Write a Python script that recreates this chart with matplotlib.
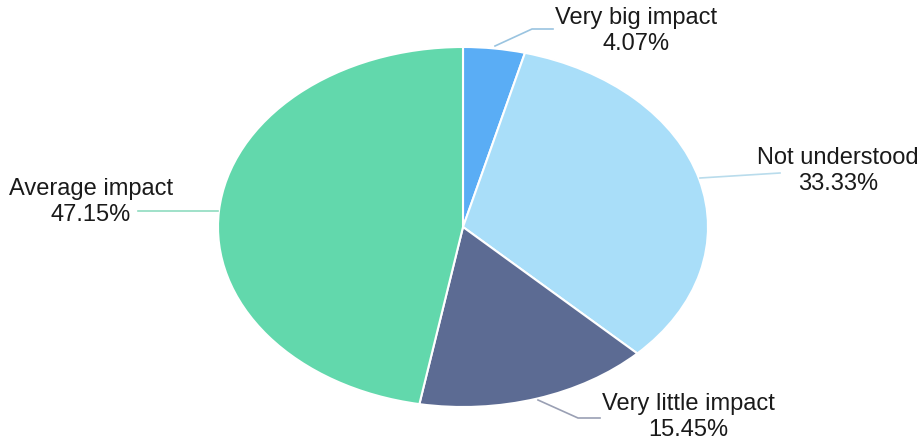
import matplotlib.pyplot as plt
import numpy as np

plt.rcParams['font.family'] = ['Liberation Sans', 'DejaVu Sans']

# slices, clockwise from 12 o'clock
labels = ['Very big impact', 'Not understood', 'Very little impact', 'Average impact']
shares = [4.07, 33.33, 15.45, 47.15]
colors = ['#5aadf5', '#a9def9', '#5c6b93', '#62d8ac']
line_colors = ['#9ac4e0', '#b9dcec', '#9aa0b4', '#8fdcc0']

# pie centre and radii in pixels (drawn as an ellipse)
cx, cy, rx, ry = 463, 227, 245, 180
W, H = 921, 441


def to_data(px, py):
    return (px - cx) / rx, (cy - py) / ry


fig = plt.figure(figsize=(W / 100, H / 100), dpi=100)
ax = fig.add_axes([0, 0, 1, 1])
ax.pie(shares, colors=colors, startangle=90, counterclock=False,
       wedgeprops=dict(edgecolor='white', linewidth=1.5))
ax.set_aspect('auto')
ax.set_xlim(-cx / rx, (W - cx) / rx)
ax.set_ylim(-(H - cy) / ry, cy / ry)
ax.axis('off')

# label text positions and leader lines (pixels), same order as labels
text_pos = [(636, 31), (838, 171), (688, 417), (91, 202)]
leaders = [
    [(495, 46), (532, 29), (553, 29)],
    [(700, 178), (780, 173)],
    [(538, 400), (578, 418), (600, 418)],
    [(218, 211), (138, 211)],
]

for lab, val, pos, pts, lc in zip(labels, shares, text_pos, leaders, line_colors):
    xy = np.array([to_data(*p) for p in pts])
    ax.plot(xy[:, 0], xy[:, 1], color=lc, lw=1.2)
    tx, ty = to_data(*pos)
    ax.text(tx, ty, f'{lab}\n{val:.2f}%', ha='center', va='center',
            fontsize=17, color='#1a1a1a', linespacing=1.22)

fig.savefig('out.png', dpi=100)
